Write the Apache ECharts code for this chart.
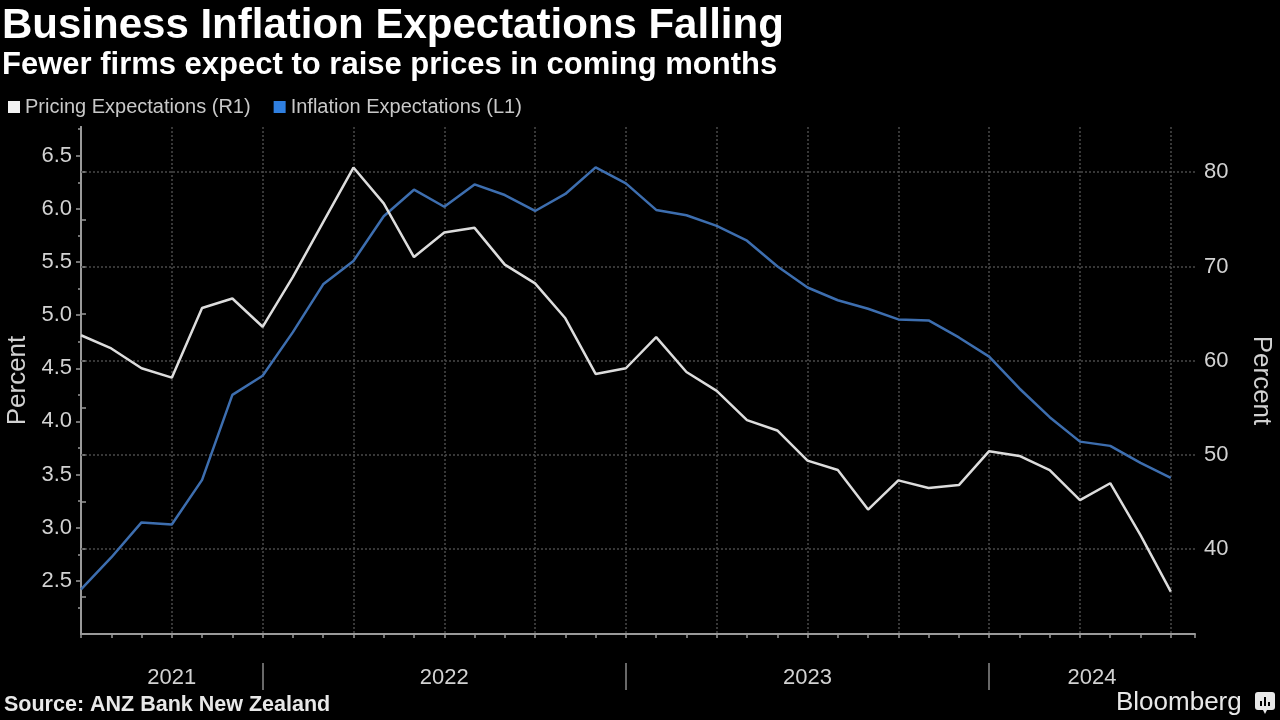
<!DOCTYPE html>
<html>
<head>
<meta charset="utf-8">
<style>
  html, body { margin: 0; padding: 0; background: #000; }
  #chart { width: 1280px; height: 720px; }
</style>
<script src="https://cdn.jsdelivr.net/npm/echarts@6/dist/echarts.min.js"></script>
</head>
<body>
<div id="chart"></div>
<script>
// ---- Data ----
const months = [
  '2021-06','2021-07','2021-08','2021-09','2021-10','2021-11','2021-12',
  '2022-01','2022-02','2022-03','2022-04','2022-05','2022-06','2022-07','2022-08','2022-09','2022-10','2022-11','2022-12',
  '2023-01','2023-02','2023-03','2023-04','2023-05','2023-06','2023-07','2023-08','2023-09','2023-10','2023-11','2023-12',
  '2024-01','2024-02','2024-03','2024-04','2024-05','2024-06'
];
// Inflation Expectations (L1), percent
const inflationExp = [2.42, 2.72, 3.05, 3.03, 3.45, 4.25, 4.43, 4.84, 5.29, 5.51, 5.93, 6.18, 6.02, 6.23, 6.13, 5.98, 6.14, 6.39, 6.24,
  5.99, 5.94, 5.84, 5.70, 5.46, 5.26, 5.14, 5.06, 4.96, 4.95, 4.79, 4.61, 4.31, 4.04, 3.81, 3.77, 3.61, 3.47];
// Pricing Expectations (R1), percent
const pricingExp = [62.7, 61.3, 59.2, 58.2, 65.6, 66.6, 63.6, 68.9, 74.7, 80.5, 76.7, 71.0, 73.6, 74.1, 70.2, 68.2, 64.5, 58.6, 59.2,
  62.5, 58.8, 56.8, 53.7, 52.6, 49.4, 48.4, 44.2, 47.3, 46.5, 46.8, 50.4, 49.9, 48.4, 45.2, 47.0, 41.5, 35.5];

const years = ['2021', '2022', '2023', '2024'];
const leftTicks = [2.5, 3.0, 3.5, 4.0, 4.5, 5.0, 5.5, 6.0, 6.5];
const rightTicks = [40, 50, 60, 70, 80];
const rightMinorTicks = [35, 40, 45, 50, 55, 60, 65, 70, 75, 80];

const seriesNames = ['Pricing Expectations (R1)', 'Inflation Expectations (L1)'];

// ---- Derived ----
const xMax = months.length - 1 + 0.8;
const yearBounds = [];
for (let i = 0; i < months.length; i++) {
  if (months[i].endsWith('-12')) yearBounds.push(i);
}
const spanStarts = [0].concat(yearBounds);
const spanEnds = yearBounds.concat([xMax]);
const yearCenters = years.map((y, k) => (spanStarts[k] + spanEnds[k]) / 2);

const inflData = inflationExp.map((v, i) => [i, v]);
const pricData = pricingExp.map((v, i) => [i, v]);

const axisGray = '#9a9a9a';
const labelGray = '#d2d2d2';
const gridGray = '#4a4a4a';
const font = 'Liberation Sans';

const chart = echarts.init(document.getElementById('chart'), null, { renderer: 'canvas' });

chart.setOption({
  backgroundColor: '#000',
  animation: false,
  textStyle: { fontFamily: font },
  title: [
    { text: 'Business Inflation Expectations Falling', left: 2, top: 5, padding: 0,
      textStyle: { color: '#ffffff', fontSize: 42, fontWeight: 'bold', fontFamily: font } },
    { text: 'Fewer firms expect to raise prices in coming months', left: 2, top: 50, padding: 0,
      textStyle: { color: '#ffffff', fontSize: 31, fontWeight: 'bold', fontFamily: font } },
    { text: 'Source: ANZ Bank New Zealand', left: 4, top: 694, padding: 0,
      textStyle: { color: '#e8e8e8', fontSize: 21.5, fontWeight: 'bold', fontFamily: font } },
    { text: 'Bloomberg', left: 1116, top: 690, padding: 0,
      textStyle: { color: '#e8e8e8', fontSize: 26, fontWeight: 'normal', fontFamily: font } }
  ],
  legend: {
    data: seriesNames,
    left: 8, top: 97, padding: 0,
    icon: 'rect', itemWidth: 12, itemHeight: 12, itemGap: 23,
    textStyle: { color: '#c8c8c8', fontSize: 20, fontFamily: font }
  },
  grid: { left: 81, right: 85, top: 127, bottom: 86, containLabel: false, outerBoundsMode: 'none' },
  xAxis: [
    {
      type: 'value', min: 0, max: xMax, interval: 3,
      axisLine: { show: true, lineStyle: { color: axisGray, width: 2 } },
      axisTick: { show: true, length: 4, lineStyle: { color: axisGray, width: 1.5 } },
      minorTick: { show: true, splitNumber: 3, length: 4, lineStyle: { color: axisGray, width: 1.5 } },
      axisLabel: { show: false },
      splitLine: { show: true, showMinLine: false, showMaxLine: false,
        lineStyle: { color: gridGray, type: [2, 2], width: 1.5 } }
    },
    {
      type: 'value', min: 0, max: xMax, position: 'bottom', offset: 29,
      axisLine: { show: false },
      axisTick: { show: true, length: 27, customValues: yearBounds, lineStyle: { color: '#8a8a8a', width: 1.5 } },
      axisLabel: { show: true, customValues: yearCenters, margin: 4, color: labelGray, fontSize: 22, fontFamily: font,
        formatter: (v) => { const k = yearCenters.findIndex(c => Math.abs(c - v) < 1e-6); return k >= 0 ? years[k] : ''; } },
      splitLine: { show: false }
    }
  ],
  yAxis: [
    {
      type: 'value', position: 'left', min: 2.0, max: 6.77, interval: 0.5,
      name: 'Percent', nameLocation: 'middle', nameGap: 50, nameRotate: 90,
      nameTextStyle: { color: labelGray, fontSize: 26, fontFamily: font },
      axisLine: { show: true, lineStyle: { color: axisGray, width: 2 } },
      axisTick: { show: true, length: 5, customValues: leftTicks, lineStyle: { color: axisGray, width: 1.5 } },
      minorTick: { show: true, splitNumber: 2, length: 3, lineStyle: { color: axisGray, width: 1.5 } },
      axisLabel: { customValues: leftTicks, margin: 9, color: labelGray, fontSize: 22, fontFamily: font,
        formatter: (v) => v.toFixed(1) },
      splitLine: { show: false }
    },
    {
      type: 'value', position: 'right', min: 31, max: 84.8,
      name: 'Percent', nameLocation: 'middle', nameGap: 53, nameRotate: -90,
      nameTextStyle: { color: labelGray, fontSize: 26, fontFamily: font },
      axisLine: { show: true, lineStyle: { color: axisGray, width: 2 } },
      axisTick: { show: true, length: 5, customValues: rightMinorTicks, lineStyle: { color: axisGray, width: 1.5 } },
      axisLabel: { customValues: rightTicks, margin: 9, color: labelGray, fontSize: 22, fontFamily: font },
      splitLine: { show: false }
    }
  ],
  series: [
    {
      name: seriesNames[1], type: 'line', xAxisIndex: 0, yAxisIndex: 0,
      data: inflData, showSymbol: false, symbol: 'none',
      lineStyle: { color: '#3d6eaf', width: 2.5 },
      itemStyle: { color: '#2f7fe0' }, z: 3
    },
    {
      name: seriesNames[0], type: 'line', xAxisIndex: 0, yAxisIndex: 1,
      data: pricData, showSymbol: false, symbol: 'none',
      lineStyle: { color: '#dcdcdc', width: 2.5 },
      itemStyle: { color: '#f2f2f2' }, z: 4,
      markLine: {
        silent: true, symbol: 'none', label: { show: false }, z: 1,
        lineStyle: { color: gridGray, type: [2, 2], width: 1.5 },
        data: rightTicks.map(v => ({ yAxis: v }))
      }
    }
  ],
  graphic: [
    { type: 'group', left: 1255, top: 692, children: [
      { type: 'rect', shape: { x: 0, y: 0, width: 20, height: 18, r: 3 }, style: { fill: '#e8e8e8' } },
      { type: 'polygon', shape: { points: [[8, 18], [12, 18], [10, 22]] }, style: { fill: '#e8e8e8' } },
      { type: 'rect', shape: { x: 5, y: 9, width: 2, height: 5 }, style: { fill: '#000' } },
      { type: 'rect', shape: { x: 9, y: 5, width: 2, height: 9 }, style: { fill: '#000' } },
      { type: 'rect', shape: { x: 13, y: 10, width: 2, height: 4 }, style: { fill: '#000' } }
    ] }
  ]
});
</script>
</body>
</html>
